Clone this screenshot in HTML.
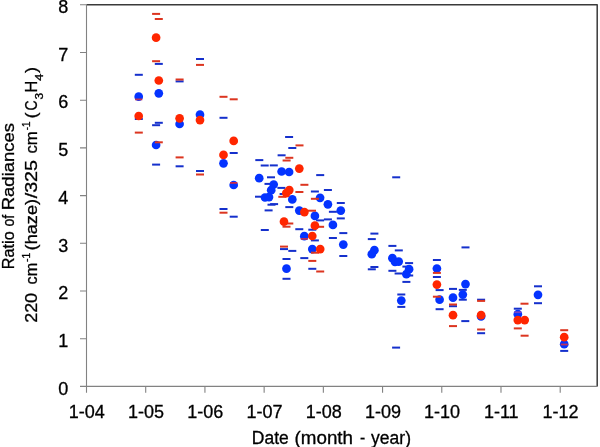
<!DOCTYPE html>
<html><head><meta charset="utf-8"><title>Ratio of Radiances</title>
<style>html,body{margin:0;padding:0;background:#fff}svg{display:block}text{font-family:"Liberation Sans",sans-serif;fill:#000;stroke:#000;stroke-width:.3px}</style></head><body>
<svg width="600" height="447" viewBox="0 0 600 447">
<rect width="600" height="447" fill="#fff"/>
<polyline points="86.5,4.8 597.2,4.8 597.2,386.4" fill="none" stroke="#3a3a3a" stroke-width="1.5" stroke-linejoin="round"/>
<path d="M86.5,4.3V392.79999999999995M80.0,386.4H597.2M80.0,338.70H86.5M80.0,291.00H86.5M80.0,243.30H86.5M80.0,195.60H86.5M80.0,147.90H86.5M80.0,100.20H86.5M80.0,52.50H86.5M80.0,4.80H86.5M145.71,386.4V392.79999999999995M204.93,386.4V392.79999999999995M264.14,386.4V392.79999999999995M323.35,386.4V392.79999999999995M382.56,386.4V392.79999999999995M441.78,386.4V392.79999999999995M500.99,386.4V392.79999999999995M560.20,386.4V392.79999999999995" fill="none" stroke="#828282" stroke-width="1.1"/>
<g fill="#1530cc"><rect x="134.8" y="73.8" width="8" height="2"/><rect x="134.8" y="118.0" width="8" height="2"/><rect x="154.8" y="62.9" width="8" height="2"/><rect x="154.8" y="121.8" width="8" height="2"/><rect x="152.1" y="124.2" width="8" height="2"/><rect x="152.1" y="163.6" width="8" height="2"/><rect x="175.6" y="80.4" width="8" height="2"/><rect x="175.6" y="165.3" width="8" height="2"/><rect x="196.0" y="58.0" width="8" height="2"/><rect x="196.0" y="170.0" width="8" height="2"/><rect x="219.5" y="116.8" width="8" height="2"/><rect x="219.5" y="208.0" width="8" height="2"/><rect x="229.7" y="152.0" width="8" height="2"/><rect x="229.7" y="215.7" width="8" height="2"/><rect x="285.1" y="136.0" width="8" height="2"/><rect x="288.3" y="147.0" width="8" height="2"/><rect x="277.6" y="154.3" width="8" height="2"/><rect x="255.3" y="159.1" width="8" height="2"/><rect x="260.7" y="164.5" width="8" height="2"/><rect x="269.8" y="164.4" width="8" height="2"/><rect x="267.0" y="176.3" width="8" height="2"/><rect x="264.5" y="182.9" width="8" height="2"/><rect x="277.4" y="186.9" width="8" height="2"/><rect x="279.6" y="193.0" width="8" height="2"/><rect x="255.0" y="195.7" width="8" height="2"/><rect x="267.5" y="203.7" width="8" height="2"/><rect x="270.1" y="203.1" width="8" height="2"/><rect x="285.3" y="206.1" width="8" height="2"/><rect x="264.6" y="209.4" width="8" height="2"/><rect x="260.8" y="229.0" width="8" height="2"/><rect x="295.3" y="228.2" width="8" height="2"/><rect x="300.3" y="257.1" width="8" height="2"/><rect x="280.0" y="248.1" width="8" height="2"/><rect x="288.3" y="249.9" width="8" height="2"/><rect x="282.5" y="258.0" width="8" height="2"/><rect x="282.5" y="277.8" width="8" height="2"/><rect x="316.2" y="174.1" width="8" height="2"/><rect x="310.9" y="190.5" width="8" height="2"/><rect x="323.9" y="189.0" width="8" height="2"/><rect x="336.8" y="202.0" width="8" height="2"/><rect x="328.9" y="210.8" width="8" height="2"/><rect x="316.1" y="219.4" width="8" height="2"/><rect x="323.9" y="218.4" width="8" height="2"/><rect x="336.8" y="217.4" width="8" height="2"/><rect x="339.3" y="232.1" width="8" height="2"/><rect x="328.9" y="237.0" width="8" height="2"/><rect x="310.9" y="239.4" width="8" height="2"/><rect x="339.3" y="255.0" width="8" height="2"/><rect x="308.3" y="267.8" width="8" height="2"/><rect x="308.3" y="228.7" width="8" height="2"/><rect x="392.2" y="176.3" width="8" height="2"/><rect x="370.4" y="232.6" width="8" height="2"/><rect x="367.8" y="238.1" width="8" height="2"/><rect x="370.4" y="266.0" width="8" height="2"/><rect x="367.8" y="268.3" width="8" height="2"/><rect x="388.4" y="244.9" width="8" height="2"/><rect x="394.8" y="249.4" width="8" height="2"/><rect x="388.4" y="269.8" width="8" height="2"/><rect x="394.6" y="272.5" width="8" height="2"/><rect x="405.1" y="262.1" width="8" height="2"/><rect x="402.4" y="265.6" width="8" height="2"/><rect x="405.2" y="274.5" width="8" height="2"/><rect x="402.4" y="280.9" width="8" height="2"/><rect x="397.3" y="293.5" width="8" height="2"/><rect x="397.3" y="305.9" width="8" height="2"/><rect x="392.1" y="346.6" width="8" height="2"/><rect x="432.9" y="259.0" width="8" height="2"/><rect x="432.9" y="276.0" width="8" height="2"/><rect x="435.6" y="289.1" width="8" height="2"/><rect x="435.6" y="308.2" width="8" height="2"/><rect x="449.0" y="287.9" width="8" height="2"/><rect x="449.0" y="305.2" width="8" height="2"/><rect x="461.5" y="246.4" width="8" height="2"/><rect x="461.3" y="320.1" width="8" height="2"/><rect x="458.8" y="288.9" width="8" height="2"/><rect x="458.8" y="298.7" width="8" height="2"/><rect x="477.1" y="298.7" width="8" height="2"/><rect x="477.1" y="332.2" width="8" height="2"/><rect x="513.8" y="307.7" width="8" height="2"/><rect x="534.0" y="285.3" width="8" height="2"/><rect x="534.0" y="302.2" width="8" height="2"/><rect x="560.2" y="349.9" width="8" height="2"/></g>
<g fill="#0433ff"><circle cx="138.7" cy="96.7" r="4.35"/><circle cx="158.8" cy="93.3" r="4.35"/><circle cx="156.1" cy="145.0" r="4.35"/><circle cx="179.6" cy="124.0" r="4.35"/><circle cx="200.0" cy="114.7" r="4.35"/><circle cx="223.5" cy="163.3" r="4.35"/><circle cx="233.7" cy="185.0" r="4.35"/><circle cx="259.2" cy="178.2" r="4.35"/><circle cx="281.6" cy="171.5" r="4.35"/><circle cx="289.1" cy="172.0" r="4.35"/><circle cx="273.7" cy="184.5" r="4.35"/><circle cx="271.2" cy="190.2" r="4.35"/><circle cx="265.0" cy="197.5" r="4.35"/><circle cx="269.0" cy="197.1" r="4.35"/><circle cx="292.3" cy="199.4" r="4.35"/><circle cx="299.3" cy="210.6" r="4.35"/><circle cx="304.3" cy="236.2" r="4.35"/><circle cx="312.3" cy="249.1" r="4.35"/><circle cx="286.5" cy="268.7" r="4.35"/><circle cx="314.9" cy="215.9" r="4.35"/><circle cx="320.1" cy="197.8" r="4.35"/><circle cx="327.9" cy="204.3" r="4.35"/><circle cx="340.8" cy="210.6" r="4.35"/><circle cx="332.9" cy="224.9" r="4.35"/><circle cx="343.3" cy="244.6" r="4.35"/><circle cx="374.4" cy="250.2" r="4.35"/><circle cx="371.8" cy="254.2" r="4.35"/><circle cx="392.4" cy="258.2" r="4.35"/><circle cx="395.0" cy="261.8" r="4.35"/><circle cx="398.7" cy="261.6" r="4.35"/><circle cx="409.1" cy="269.2" r="4.35"/><circle cx="406.4" cy="274.2" r="4.35"/><circle cx="401.3" cy="300.6" r="4.35"/><circle cx="436.9" cy="268.5" r="4.35"/><circle cx="439.6" cy="299.7" r="4.35"/><circle cx="453.0" cy="297.7" r="4.35"/><circle cx="465.5" cy="284.1" r="4.35"/><circle cx="462.8" cy="294.6" r="4.35"/><circle cx="481.1" cy="316.4" r="4.35"/><circle cx="517.8" cy="314.2" r="4.35"/><circle cx="538.0" cy="294.8" r="4.35"/><circle cx="564.2" cy="344.2" r="4.35"/></g>
<g fill="#dc3520"><rect x="134.8" y="131.6" width="8" height="2"/><rect x="152.1" y="12.9" width="8" height="2"/><rect x="154.8" y="18.0" width="8" height="2"/><rect x="152.1" y="60.2" width="8" height="2"/><rect x="154.8" y="141.3" width="8" height="2"/><rect x="175.6" y="78.5" width="8" height="2"/><rect x="175.6" y="156.4" width="8" height="2"/><rect x="196.0" y="63.9" width="8" height="2"/><rect x="196.0" y="173.5" width="8" height="2"/><rect x="219.5" y="95.8" width="8" height="2"/><rect x="229.7" y="98.3" width="8" height="2"/><rect x="219.5" y="211.7" width="8" height="2"/><rect x="295.5" y="144.4" width="8" height="2"/><rect x="285.3" y="156.8" width="8" height="2"/><rect x="282.6" y="159.5" width="8" height="2"/><rect x="300.4" y="183.8" width="8" height="2"/><rect x="295.4" y="191.0" width="8" height="2"/><rect x="310.9" y="197.8" width="8" height="2"/><rect x="278.3" y="195.8" width="8" height="2"/><rect x="308.0" y="209.7" width="8" height="2"/><rect x="285.3" y="222.5" width="8" height="2"/><rect x="282.5" y="225.7" width="8" height="2"/><rect x="316.1" y="225.8" width="8" height="2"/><rect x="280.0" y="245.6" width="8" height="2"/><rect x="311.0" y="251.7" width="8" height="2"/><rect x="308.3" y="259.9" width="8" height="2"/><rect x="316.2" y="270.5" width="8" height="2"/><rect x="432.9" y="271.9" width="8" height="2"/><rect x="432.9" y="295.7" width="8" height="2"/><rect x="449.0" y="303.5" width="8" height="2"/><rect x="449.0" y="325.1" width="8" height="2"/><rect x="477.1" y="299.9" width="8" height="2"/><rect x="477.1" y="328.5" width="8" height="2"/><rect x="520.5" y="302.7" width="8" height="2"/><rect x="513.8" y="327.4" width="8" height="2"/><rect x="520.6" y="334.7" width="8" height="2"/><rect x="560.2" y="329.2" width="8" height="2"/></g>
<rect x="135.1" y="98.5" width="7.2" height="1.8" fill="#b8305c"/><rect x="230.1" y="182.0" width="7.2" height="1.8" fill="#c8284a"/><rect x="300.7" y="238.0" width="7.2" height="1.8" fill="#b8305c"/><rect x="514.2" y="311.3" width="7.2" height="1.8" fill="#7a44c4"/><rect x="560.6" y="343.6" width="7.2" height="1.8" fill="#c03058"/>
<g fill="#ff2600"><circle cx="138.7" cy="116.0" r="4.35"/><circle cx="156.1" cy="37.7" r="4.35"/><circle cx="158.8" cy="80.5" r="4.35"/><circle cx="179.6" cy="118.3" r="4.35"/><circle cx="200.0" cy="120.1" r="4.35"/><circle cx="223.5" cy="154.9" r="4.35"/><circle cx="233.7" cy="140.9" r="4.35"/><circle cx="299.3" cy="168.6" r="4.35"/><circle cx="289.3" cy="190.1" r="4.35"/><circle cx="286.3" cy="193.1" r="4.35"/><circle cx="284.0" cy="221.7" r="4.35"/><circle cx="304.4" cy="212.1" r="4.35"/><circle cx="314.9" cy="225.7" r="4.35"/><circle cx="312.3" cy="236.0" r="4.35"/><circle cx="320.2" cy="249.1" r="4.35"/><circle cx="436.9" cy="284.6" r="4.35"/><circle cx="453.0" cy="315.2" r="4.35"/><circle cx="481.1" cy="315.2" r="4.35"/><circle cx="517.8" cy="320.1" r="4.35"/><circle cx="524.7" cy="320.1" r="4.35"/><circle cx="564.2" cy="337.2" r="4.35"/></g>
<g font-size="18" text-anchor="end">
<text x="68.2" y="394.6">0</text>
<text x="68.2" y="346.9">1</text>
<text x="68.2" y="299.2">2</text>
<text x="68.2" y="251.5">3</text>
<text x="68.2" y="203.8">4</text>
<text x="68.2" y="156.1">5</text>
<text x="68.2" y="108.4">6</text>
<text x="68.2" y="60.7">7</text>
<text x="68.2" y="13.0">8</text>
</g>
<g font-size="18" text-anchor="middle">
<text x="86.8" y="418">1-04</text>
<text x="146.0" y="418">1-05</text>
<text x="205.2" y="418">1-06</text>
<text x="264.4" y="418">1-07</text>
<text x="323.7" y="418">1-08</text>
<text x="382.9" y="418">1-09</text>
<text x="442.1" y="418">1-10</text>
<text x="501.3" y="418">1-11</text>
<text x="560.5" y="418">1-12</text>
</g>
<text id="h0" x="251.85" y="443.6" font-size="17.6" textLength="36.89" lengthAdjust="spacingAndGlyphs">Date</text>
<text id="h1" x="294.60" y="443.6" font-size="17.6" textLength="58.43" lengthAdjust="spacingAndGlyphs">(month</text>
<text id="h2" x="360.00" y="443.6" font-size="17.6" textLength="5.21" lengthAdjust="spacingAndGlyphs">-</text>
<text id="h3" x="371.05" y="443.6" font-size="17.6" textLength="39.94" lengthAdjust="spacingAndGlyphs">year)</text>
<text id="s0" transform="translate(36.85,322.75) rotate(-90)" font-size="16.5" textLength="29.76" lengthAdjust="spacingAndGlyphs">220</text>
<text id="s1" transform="translate(36.85,284.50) rotate(-90)" font-size="16.5" textLength="21.67" lengthAdjust="spacingAndGlyphs">cm</text>
<text id="s2" transform="translate(30.4,261.95) rotate(-90)" font-size="10.4" textLength="9.18" lengthAdjust="spacingAndGlyphs">-1</text>
<text id="s3" transform="translate(36.85,250.40) rotate(-90)" font-size="16.5" textLength="51.44" lengthAdjust="spacingAndGlyphs">(haze)</text>
<text id="s4" transform="translate(36.85,198.35) rotate(-90)" font-size="16.5" textLength="38.44" lengthAdjust="spacingAndGlyphs">/325</text>
<text id="s5" transform="translate(36.85,153.50) rotate(-90)" font-size="16.5" textLength="22.17" lengthAdjust="spacingAndGlyphs">cm</text>
<text id="s6" transform="translate(30.4,130.35) rotate(-90)" font-size="10.4" textLength="8.76" lengthAdjust="spacingAndGlyphs">-1</text>
<text id="s7" transform="translate(36.85,118.60) rotate(-90)" font-size="16.5" textLength="6.02" lengthAdjust="spacingAndGlyphs">(</text>
<text id="s8" transform="translate(36.85,110.50) rotate(-90)" font-size="16.5" textLength="10.10" lengthAdjust="spacingAndGlyphs">C</text>
<text id="s9" transform="translate(42.8,99.55) rotate(-90)" font-size="10.4" textLength="6.66" lengthAdjust="spacingAndGlyphs">3</text>
<text id="s10" transform="translate(36.85,92.55) rotate(-90)" font-size="16.5" textLength="11.76" lengthAdjust="spacingAndGlyphs">H</text>
<text id="s11" transform="translate(42.8,80.80) rotate(-90)" font-size="10.4" textLength="7.23" lengthAdjust="spacingAndGlyphs">4</text>
<text id="s12" transform="translate(36.85,72.90) rotate(-90)" font-size="16.5" textLength="6.02" lengthAdjust="spacingAndGlyphs">)</text>
<text id="s13" transform="translate(13.9,269.25) rotate(-90)" font-size="16.5" textLength="37.99" lengthAdjust="spacingAndGlyphs">Ratio</text>
<text id="s14" transform="translate(13.9,226.60) rotate(-90)" font-size="16.5" textLength="11.64" lengthAdjust="spacingAndGlyphs">of</text>
<text id="s15" transform="translate(13.9,210.25) rotate(-90)" font-size="16.5" textLength="87.27" lengthAdjust="spacingAndGlyphs">Radiances</text>
</svg></body></html>
